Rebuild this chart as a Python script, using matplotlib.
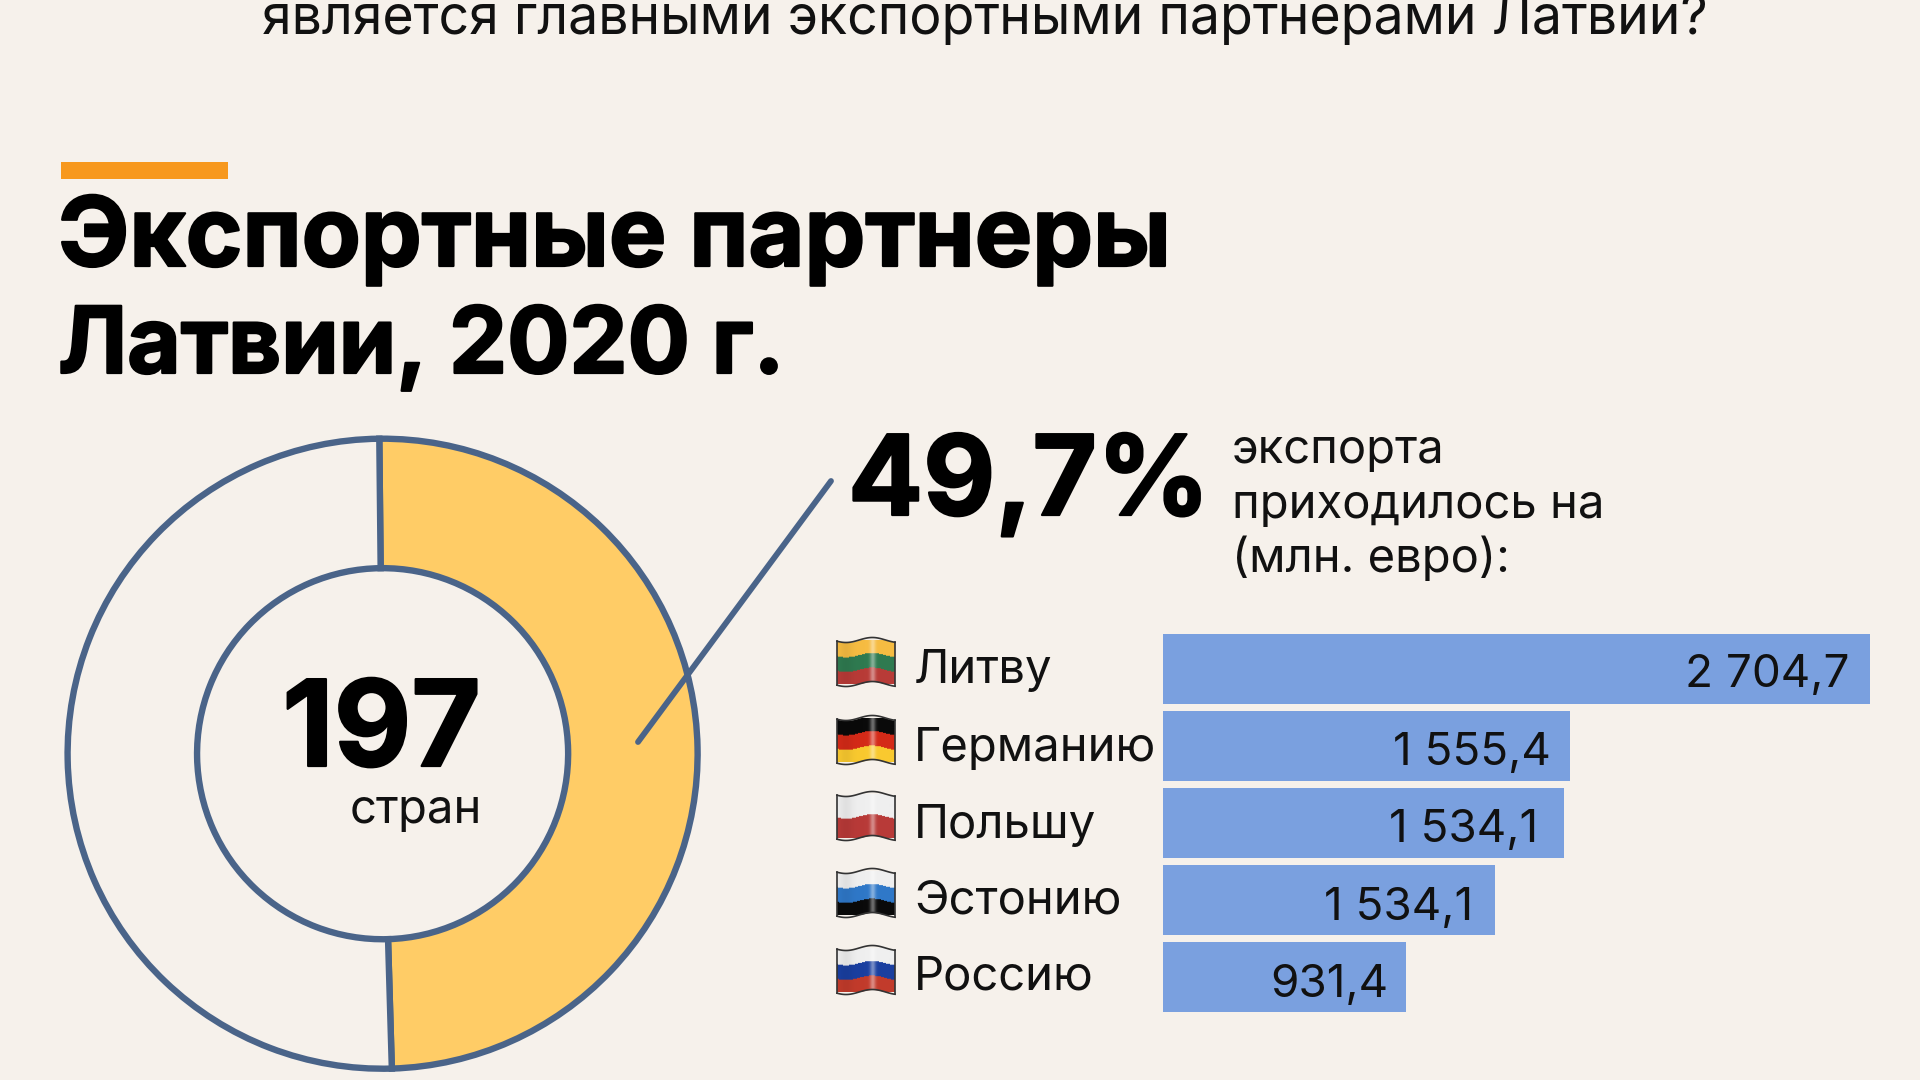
import numpy as np
import matplotlib
matplotlib.use("Agg")
import matplotlib.pyplot as plt
import matplotlib.patheffects as pe
from matplotlib.colors import to_rgb

# data
countries = ["Литву", "Германию", "Польшу", "Эстонию", "Россию"]
bar_values = [2704.7, 1555.4, 1534.1, 1270.0, 931.4]
value_labels = ["2 704,7", "1 555,4", "1 534,1", "1 534,1", "931,4"]
share = [49.7, 50.3]
flag_bands = [["#F6BC42", "#2F7A50", "#B83B37"],
              ["#0A0A0A", "#D42A18", "#F9C92F"],
              ["#EFEFEF", "#B83A38"],
              ["#EFEFEF", "#2F78C8", "#0A0A0A"],
              ["#EFEFEF", "#1A3FA0", "#C23B2B"]]

BG = "#F6F1EB"
LINE = "#4A6489"
YELLOW = "#FFCC66"
BLUE = "#7AA0DF"
ORANGE = "#F7981D"
FONT = "Inter"

W, H = 1920, 1080
fig = plt.figure(figsize=(19.2, 10.8), dpi=100, facecolor=BG)


def px_axes(left, top, width, height, **kw):
    return fig.add_axes([left / W, 1 - (top + height) / H, width / W, height / H], **kw)


# donut
cx, cy, r = 382.6, 753.7, 315
ax_d = px_axes(cx - r, cy - r, 2 * r, 2 * r)
ax_d.pie(share, startangle=90.6, counterclock=False, radius=1, colors=[YELLOW, BG],
         wedgeprops=dict(width=0.411, edgecolor=LINE, linewidth=4.6))
ax_d.set_xlim(-1, 1)
ax_d.set_ylim(-1, 1)
ax_d.patch.set_alpha(0)
for c in ax_d.patches:
    c.set_clip_on(False)

# bars
ax_b = px_axes(1163, 630.5, 707, 385)
ax_b.barh(range(len(bar_values)), bar_values, height=0.91, color=BLUE)
ax_b.set_xlim(0, bar_values[0])
ax_b.set_ylim(4.5, -0.5)
ax_b.axis("off")

label_pad = [20, 19, 26, 22, 18]
label_rise = [13, 13.5, 13.5, 14.5, 14.5]
for i, (val, lab, pad, rise) in enumerate(zip(bar_values, value_labels, label_pad, label_rise)):
    ax_b.annotate(lab, xy=(val, i), xytext=(-pad * 0.72, -rise), textcoords="offset points",
                  ha="right", va="baseline", fontsize=33, family=FONT, color="#111111")

# overlay in pixels for text and decoration
ov = fig.add_axes([0, 0, 1, 1])
ov.patch.set_alpha(0)


def flag(x0, y0, bands, w=58, h=50):
    ys, xs = np.mgrid[0:h, 0:w]
    t = xs / (w - 1)
    wave = 2.5 * np.sin(2 * np.pi * t * 1.1 + 0.5)
    pos = np.clip((ys - wave) / h * len(bands), 0, len(bands) - 1e-6).astype(int)
    cols = np.array([to_rgb(b) for b in bands])
    img = cols[pos]
    shine = np.exp(-((t - 0.62) / 0.05) ** 2)[..., None] * 0.4
    shade = np.exp(-((t - 0.15) / 0.12) ** 2)[..., None] * 0.06
    img = img * (1 - shine) + shine
    img = img * (1 - shade)
    ov.imshow(img, extent=[x0, x0 + w, y0 + h - 3, y0 + 3], aspect="auto",
              interpolation="bilinear", zorder=2)
    x = np.linspace(x0, x0 + w, 60)
    wv = 2.5 * np.sin(2 * np.pi * (x - x0) / w * 1.1 + 0.5)
    ov.fill_between(x, y0 - 3, y0 + 3 + wv, color=BG, zorder=3, lw=0)
    ov.fill_between(x, y0 + h + wv - 3, y0 + h + 4, color=BG, zorder=3, lw=0)
    ov.plot(x, y0 + 3 + wv, color="#333333", lw=1.2, zorder=4)
    ov.plot(x, y0 + h - 3 + wv, color="#333333", lw=1.2, zorder=4)
    ov.plot([x0, x0], [y0 + 3 + wv[0], y0 + h - 3 + wv[0]], color="#333333", lw=1.2, zorder=4)
    ov.plot([x0 + w, x0 + w], [y0 + 3 + wv[-1], y0 + h - 3 + wv[-1]], color="#333333", lw=1.2, zorder=4)


flag_tops = [637, 715, 791, 868, 945]
for top, bands in zip(flag_tops, flag_bands):
    flag(837, top, bands)

ov.set_xlim(0, W)
ov.set_ylim(H, 0)
ov.axis("off")

# connector line
ov.plot([831, 638], [481, 742], color=LINE, lw=4.2, solid_capstyle="round", zorder=5)

# orange mark
ov.fill_between([61, 228], 162, 179, color=ORANGE, lw=0)

# thicker strokes for the heavy type
heavy = [pe.withStroke(linewidth=1.6, foreground="black")]

# headline clipped by the top edge, same as the reference
ov.text(985, 34, "является главными экспортными партнерами Латвии?", ha="center", va="baseline",
        fontsize=38.6, family=FONT, color="#111111")
ov.text(58, 266, "Экспортные партнеры", ha="left", va="baseline", fontsize=69.5,
        family=FONT, weight="bold", color="black", path_effects=heavy)
ov.text(58, 373, "Латвии, 2020 г.", ha="left", va="baseline", fontsize=66.5,
        family=FONT, weight="bold", color="black", path_effects=heavy)

ov.text(481, 766, "197", ha="right", va="baseline", fontsize=86, family=FONT, weight="bold",
        color="black", path_effects=heavy)
ov.text(482, 823, "стран", ha="right", va="baseline", fontsize=34, family=FONT, color="#111111")

ov.text(848, 515, "49,7%", ha="left", va="baseline", fontsize=80, family=FONT, weight="bold",
        color="black", path_effects=heavy)
for txt, y in zip(["экспорта", "приходилось на", "(млн. евро):"], [463, 518, 572]):
    ov.text(1232, y, txt, ha="left", va="baseline", fontsize=34, family=FONT, color="#111111")

baselines = [683, 761, 838, 914, 990]
for name, y in zip(countries, baselines):
    ov.text(914, y, name, ha="left", va="baseline", fontsize=34, family=FONT, color="#111111")

fig.savefig("out.png", dpi=100, facecolor=BG)
